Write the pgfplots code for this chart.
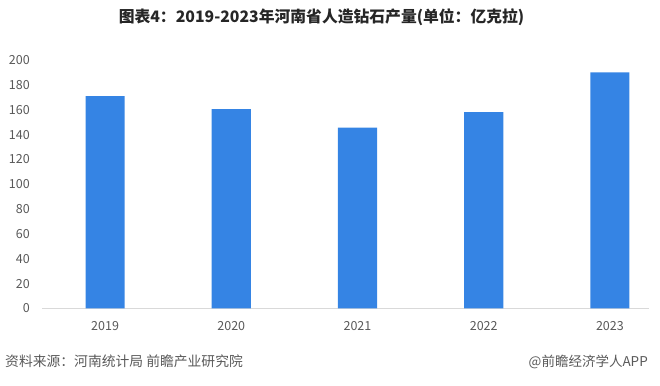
\documentclass[border=0pt]{standalone}
\usepackage{fontspec}
\setmainfont{Noto Sans CJK SC}
\usepackage{pgfplots}
\pgfplotsset{compat=1.18}
\definecolor{barblue}{RGB}{53,132,228}
\definecolor{ticklab}{RGB}{89,89,89}
\definecolor{axisgray}{RGB}{217,217,217}
\definecolor{titlecol}{RGB}{38,38,38}
\begin{document}
\begin{tikzpicture}[x=1pt,y=1pt]
\path[use as bounding box] (0,0) rectangle (660,385);
\begin{axis}[
  at={(42pt,76.5pt)}, anchor=south west,
  scale only axis, width=607pt, height=248.5pt,
  xmin=-0.5, xmax=4.31, ymin=0, ymax=200,
  ytick={0,20,...,200},
  xtick={0,1,2,3,4},
  xticklabels={2019,2020,2021,2022,2023},
  major tick length=0pt,
  axis x line*=bottom, axis y line*=left,
  x axis line style={-, draw=axisgray, line width=1pt},
  y axis line style={draw=none},
  tick label style={font=\fontsize{12.5}{14}\selectfont, text=ticklab},
  yticklabel style={anchor=east, inner sep=0pt, xshift=-12pt},
  xticklabel style={anchor=center, inner sep=0pt, yshift=-18pt},
  /pgf/number format/assume math mode=true,
  clip=false,
]
\addplot[ybar, bar width=0.31, fill=barblue, draw=none] coordinates {
  (0,171) (1,160.5) (2,145.5) (3,158) (4,190)
};
\end{axis}
\node[anchor=center, text=titlecol, inner sep=0pt] at (321.5,368)
  {\fontsize{15.8}{18}\selectfont\bfseries 图表4：2019-2023年河南省人造钻石产量(单位：亿克拉)};
\node[anchor=west, text=ticklab, inner sep=0pt] at (5,23.5)
  {\fontsize{13.8}{16}\selectfont 资料来源：河南统计局 前瞻产业研究院};
\node[anchor=east, text=ticklab, inner sep=0pt] at (648,23.5)
  {\fontsize{13.5}{16}\selectfont @前瞻经济学人APP};
\end{tikzpicture}
\end{document}
